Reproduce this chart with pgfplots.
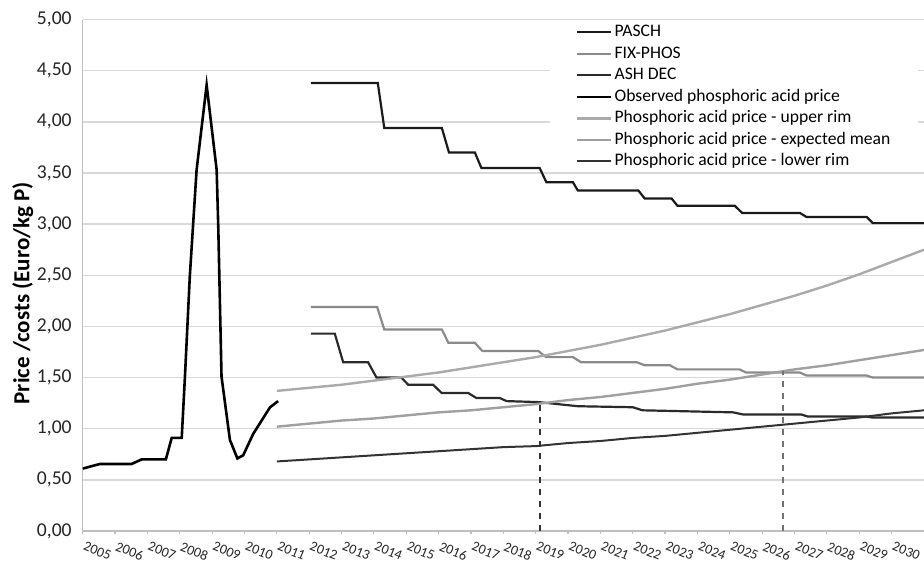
\documentclass[border=0pt]{standalone}
\usepackage{pgfplots}
\pgfplotsset{compat=1.18}
\usepackage{fontspec}
\setmainfont{Carlito}
\definecolor{cPasch}{HTML}{1A1A1A}
\definecolor{cFix}{HTML}{8A8A8A}
\definecolor{cAsh}{HTML}{2A2A2A}
\definecolor{cUpper}{HTML}{AAAAAA}
\definecolor{cMean}{HTML}{A0A0A0}
\definecolor{cLower}{HTML}{333333}
\definecolor{cGrid}{HTML}{D9D9D9}
\definecolor{cAxis}{HTML}{BFBFBF}

\begin{document}
\begin{tikzpicture}
\begin{axis}[
  name=ax,
  scale only axis, width=420.65pt, height=255.7pt,
  xmin=2005, xmax=2031, ymin=0, ymax=5,
  axis x line*=bottom, axis y line*=left,
  axis line style={-, draw=cAxis, line width=0.6pt},
  ytick={0,0.5,...,5}, ymajorgrids,
  grid style={draw=cGrid, line width=0.7pt},
  ytick style={draw=none},
  xtick={2005,...,2030},
  xticklabels={2005,2006,2007,2008,2009,2010,2011,2012,2013,2014,2015,2016,2017,
    2018,2019,2020,2021,2022,2023,2024,2025,2026,2027,2028,2029,2030},
  xtick align=outside, major tick length=1.5pt,
  xtick style={draw=cAxis, line width=0.6pt},
  xticklabel style={font=\fontsize{7}{8}\selectfont, text=black!85,
    xshift=1.5pt, yshift=-3.5pt, rotate=-22, anchor=north west, inner sep=0pt},
  yticklabel style={font=\fontsize{9.8}{11}\selectfont, text=black!85, xshift=-2pt,
    /pgf/number format/.cd, fixed, fixed zerofill, precision=2, use comma},
  /pgf/number format/assume math mode=true,
  ylabel={Price /costs (Euro/kg P)},
  ylabel style={font=\fontsize{11.5}{13}\selectfont\bfseries,
    at={(axis description cs:-0.0713,0.465)}, anchor=center},
  legend image code/.code={\draw[#1] (0pt,0pt) -- (17pt,0pt);},
  legend cell align=left,
  legend style={at={(axis description cs:0.555,1)}, anchor=north west,
    yshift=-1.1pt, draw=none, fill=white, inner xsep=13pt, inner ysep=0pt,
    font=\fontsize{8.8}{10}\selectfont, row sep=0.55pt,
    nodes={inner sep=1pt, text height=6.3pt, text depth=1.9pt}},
]
% PASCH
\addplot[color=cPasch, line width=1.1pt] coordinates {
  (2012.05,4.38) (2014.12,4.38) (2014.32,3.94) (2016.10,3.94) (2016.32,3.70)
  (2017.12,3.70) (2017.32,3.55) (2019.12,3.55) (2019.33,3.41) (2020.15,3.41)
  (2020.30,3.33) (2022.17,3.33) (2022.37,3.25) (2023.20,3.25) (2023.38,3.18)
  (2025.15,3.18) (2025.38,3.11) (2027.16,3.11) (2027.37,3.07) (2029.23,3.07)
  (2029.42,3.01) (2031.00,3.01)};
% FIX-PHOS
\addplot[color=cFix, line width=1.1pt] coordinates {
  (2012.05,2.19) (2014.10,2.19) (2014.32,1.97) (2016.10,1.97) (2016.30,1.84)
  (2017.12,1.84) (2017.35,1.76) (2019.08,1.76) (2019.32,1.70) (2020.15,1.70)
  (2020.40,1.65) (2022.12,1.65) (2022.37,1.62) (2023.15,1.62) (2023.38,1.58)
  (2025.30,1.58) (2025.50,1.55) (2027.16,1.55) (2027.37,1.52) (2029.22,1.52)
  (2029.42,1.50) (2031.00,1.50)};
% ASH DEC
\addplot[color=cAsh, line width=1.1pt] coordinates {
  (2012.05,1.93) (2012.79,1.93) (2013.05,1.65) (2013.82,1.65) (2014.08,1.50)
  (2014.85,1.50) (2015.06,1.43) (2015.83,1.43) (2016.09,1.35) (2016.91,1.35)
  (2017.17,1.30) (2017.89,1.30) (2018.10,1.27) (2019.10,1.26) (2020.30,1.22)
  (2022.00,1.21) (2022.30,1.18) (2025.10,1.16) (2025.40,1.14) (2027.20,1.14)
  (2027.40,1.12) (2029.20,1.12) (2029.40,1.11) (2031.00,1.11)};
% Observed phosphoric acid price
\addplot[color=black, line width=1.3pt] coordinates {
  (2005.00,0.61) (2005.23,0.63) (2005.53,0.655) (2006.51,0.655) (2006.82,0.70)
  (2007.57,0.70) (2007.75,0.91) (2008.06,0.91) (2008.16,1.51) (2008.31,2.49)
  (2008.52,3.53) (2008.83,4.36) (2009.14,3.53) (2009.19,2.97) (2009.29,1.51)
  (2009.55,0.89) (2009.78,0.71) (2009.96,0.74) (2010.27,0.95) (2010.79,1.21)
  (2011.04,1.27)};
% upper rim
\addplot[color=cUpper, line width=1.2pt] coordinates {
  (2011,1.37) (2012,1.40) (2013,1.43) (2014,1.47) (2015,1.51) (2016,1.55)
  (2017,1.60) (2018,1.65) (2019,1.70) (2020,1.76) (2021,1.82) (2022,1.89)
  (2023,1.96) (2024,2.04) (2025,2.12) (2026,2.21) (2027,2.30) (2028,2.40)
  (2029,2.51) (2030,2.63) (2031,2.75)};
% expected mean
\addplot[color=cMean, line width=1.2pt] coordinates {
  (2011,1.02) (2012,1.05) (2013,1.08) (2014,1.10) (2015,1.13) (2016,1.16)
  (2017,1.18) (2018,1.21) (2019,1.24) (2020,1.28) (2021,1.31) (2022,1.35)
  (2023,1.39) (2024,1.44) (2025,1.48) (2026,1.53) (2027,1.58) (2028,1.62)
  (2029,1.67) (2030,1.72) (2031,1.77)};
% lower rim
\addplot[color=cLower, line width=1.0pt] coordinates {
  (2011,0.68) (2012,0.70) (2013,0.72) (2014,0.74) (2015,0.76) (2016,0.78)
  (2017,0.80) (2018,0.82) (2019,0.83) (2020,0.86) (2021,0.88) (2022,0.91)
  (2023,0.93) (2024,0.96) (2025,0.99) (2026,1.02) (2027,1.05) (2028,1.08)
  (2029,1.11) (2030,1.15) (2031,1.18)};
% break-even markers
\addplot[forget plot, color=black!80, line width=0.9pt, dash pattern=on 3pt off 3pt]
  coordinates {(2019.13,0) (2019.13,1.25)};
\addplot[forget plot, color=black!55, line width=0.9pt, dash pattern=on 3pt off 3pt]
  coordinates {(2026.64,0) (2026.64,1.56)};
\legend{PASCH, FIX-PHOS, ASH DEC, Observed phosphoric acid price,
  Phosphoric acid price - upper rim, Phosphoric acid price - expected mean,
  Phosphoric acid price - lower rim}
\end{axis}
\pgfresetboundingbox
\path ([shift={(-41.35pt,-18pt)}]ax.south west) rectangle ([shift={(0pt,9.8pt)}]ax.north east);
\end{tikzpicture}
\end{document}
